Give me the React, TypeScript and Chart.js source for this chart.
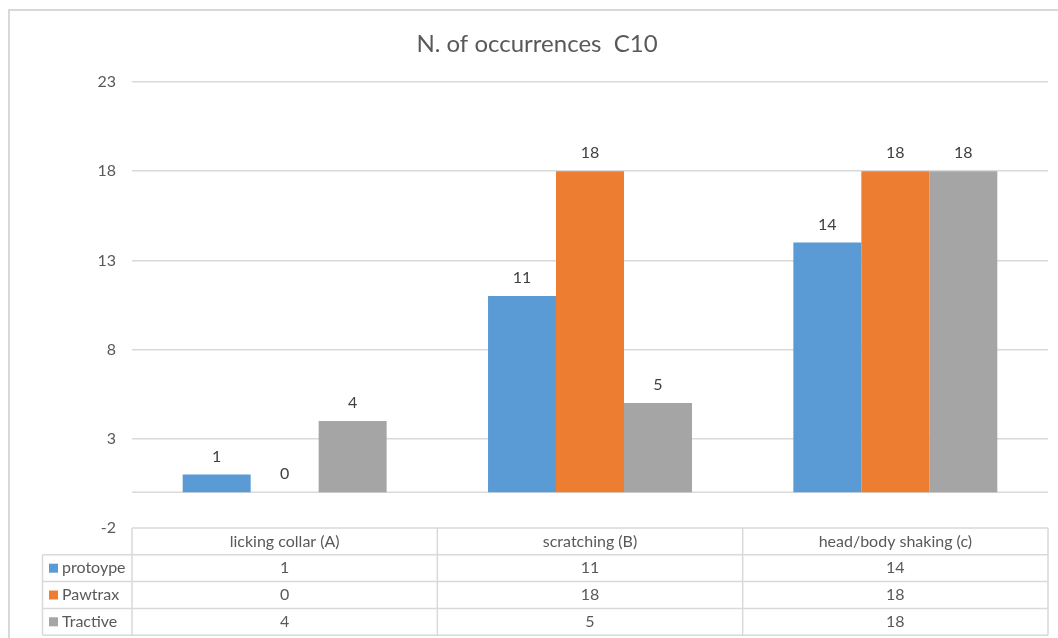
import React, { useEffect, useRef } from "react";
import { Chart, registerables } from "chart.js";

Chart.register(...registerables);

const categories = ["licking collar (A)", "scratching (B)", "head/body shaking (c)"];
const seriesNames = ["protoype", "Pawtrax", "Tractive"];
const protoype = [1, 11, 14];
const pawtrax = [0, 18, 18];
const tractive = [4, 5, 18];
const yTicks = [-2, 3, 8, 13, 18, 23];
const colors = ["#5B9BD5", "#ED7D31", "#A5A5A5"];
const chartTitle = "N. of occurrences  C10";

const FONT = "Lato, 'Open Sans', sans-serif";
const TEXT = "#595959";
const LINE = "#D9D9D9";

const overlay = {
  id: "overlay",
  beforeDatasetsDraw(chart: any) {
    const { ctx, chartArea, scales } = chart;
    const y0 = scales.y.getPixelForValue(0);
    ctx.save();
    ctx.strokeStyle = LINE;
    ctx.lineWidth = 1.5;
    ctx.beginPath();
    ctx.moveTo(chartArea.left, y0);
    ctx.lineTo(chartArea.right, y0);
    ctx.stroke();
    ctx.restore();
  },
  afterDraw(chart: any) {
    const { ctx, chartArea, scales } = chart;
    const xs = scales.x;
    ctx.save();
    // frame
    ctx.strokeStyle = "#D9D9D9";
    ctx.lineWidth = 2;
    ctx.beginPath();
    ctx.moveTo(9, 640);
    ctx.lineTo(9, 10);
    ctx.lineTo(1060, 10);
    ctx.stroke();

    // title
    ctx.fillStyle = TEXT;
    ctx.font = `24px ${FONT}`;
    ctx.textAlign = "center";
    ctx.textBaseline = "middle";
    ctx.fillText(chartTitle, 537, 44);

    // data labels
    ctx.font = `16px ${FONT}`;
    ctx.fillStyle = "#404040";
    chart.data.datasets.forEach((ds: any, di: number) => {
      const meta = chart.getDatasetMeta(di);
      meta.data.forEach((el: any, i: number) => {
        ctx.fillText(String(ds.data[i]), el.x, el.y - 18);
      });
    });

    // table
    const top = chartArea.bottom;
    const rowH = 26.8;
    const leftCol = 42.5;
    const n = categories.length;
    const half = (xs.getPixelForValue(1) - xs.getPixelForValue(0)) / 2;
    const bounds: number[] = [];
    for (let i = 0; i < n; i++) bounds.push(xs.getPixelForValue(i) - half);
    bounds.push(xs.getPixelForValue(n - 1) + half);

    ctx.strokeStyle = LINE;
    ctx.lineWidth = 1.5;
    ctx.beginPath();
    ctx.moveTo(bounds[0], top);
    ctx.lineTo(bounds[n], top);
    for (let r = 1; r <= 4; r++) {
      ctx.moveTo(leftCol, top + r * rowH);
      ctx.lineTo(bounds[n], top + r * rowH);
    }
    ctx.moveTo(leftCol, top + rowH);
    ctx.lineTo(leftCol, top + 4 * rowH);
    bounds.forEach((b) => {
      ctx.moveTo(b, top);
      ctx.lineTo(b, top + 4 * rowH);
    });
    ctx.stroke();

    ctx.font = `16px ${FONT}`;
    ctx.fillStyle = TEXT;
    ctx.textAlign = "center";
    categories.forEach((c, i) => {
      ctx.fillText(c, xs.getPixelForValue(i), top + rowH / 2);
    });
    chart.data.datasets.forEach((ds: any, di: number) => {
      const cy = top + (di + 1.5) * rowH;
      ctx.fillStyle = colors[di];
      ctx.fillRect(49, cy - 4.5, 9, 9);
      ctx.fillStyle = TEXT;
      ctx.textAlign = "left";
      ctx.font = `16px ${FONT}`;
      ctx.fillText(ds.label, 62, cy);
      ctx.textAlign = "center";
      ds.data.forEach((v: number, i: number) => {
        ctx.fillText(String(v), xs.getPixelForValue(i), cy);
      });
    });
    ctx.restore();
  },
};

export default function App() {
  const ref = useRef<HTMLCanvasElement>(null);
  useEffect(() => {
    if (!ref.current) return;
    const series = [protoype, pawtrax, tractive];
    const chart = new Chart(ref.current, {
      type: "bar",
      data: {
        labels: categories,
        datasets: seriesNames.map((name, i) => ({
          label: name,
          data: series[i],
          backgroundColor: colors[i],
          borderWidth: 0,
          categoryPercentage: 0.668,
          barPercentage: 1,
        })),
      },
      options: {
        animation: false,
        responsive: false,
        layout: { padding: { top: 82, bottom: 110, right: 10, left: 0 } },
        plugins: { legend: { display: false }, title: { display: false }, tooltip: { enabled: false } },
        scales: {
          x: { display: false },
          y: {
            min: -2,
            max: 23,
            afterBuildTicks: (scale: any) => {
              scale.ticks = yTicks.map((v) => ({ value: v }));
            },
            afterFit: (scale: any) => {
              scale.width = 132;
            },
            border: { display: false },
            grid: {
              color: (c: any) => (c.tick && c.tick.value === -2 ? "rgba(0,0,0,0)" : LINE),
              lineWidth: 1.5,
              drawTicks: false,
            },
            ticks: {
              padding: 16,
              color: TEXT,
              font: { family: FONT, size: 16 },
            },
          },
        },
      },
      plugins: [overlay],
    });
    return () => chart.destroy();
  }, []);
  return (
    <div style={{ position: "fixed", left: 0, top: 0, width: 1058, height: 638, background: "#fff" }}>
      <canvas ref={ref} width={1058} height={638} style={{ width: 1058, height: 638 }} />
    </div>
  );
}
